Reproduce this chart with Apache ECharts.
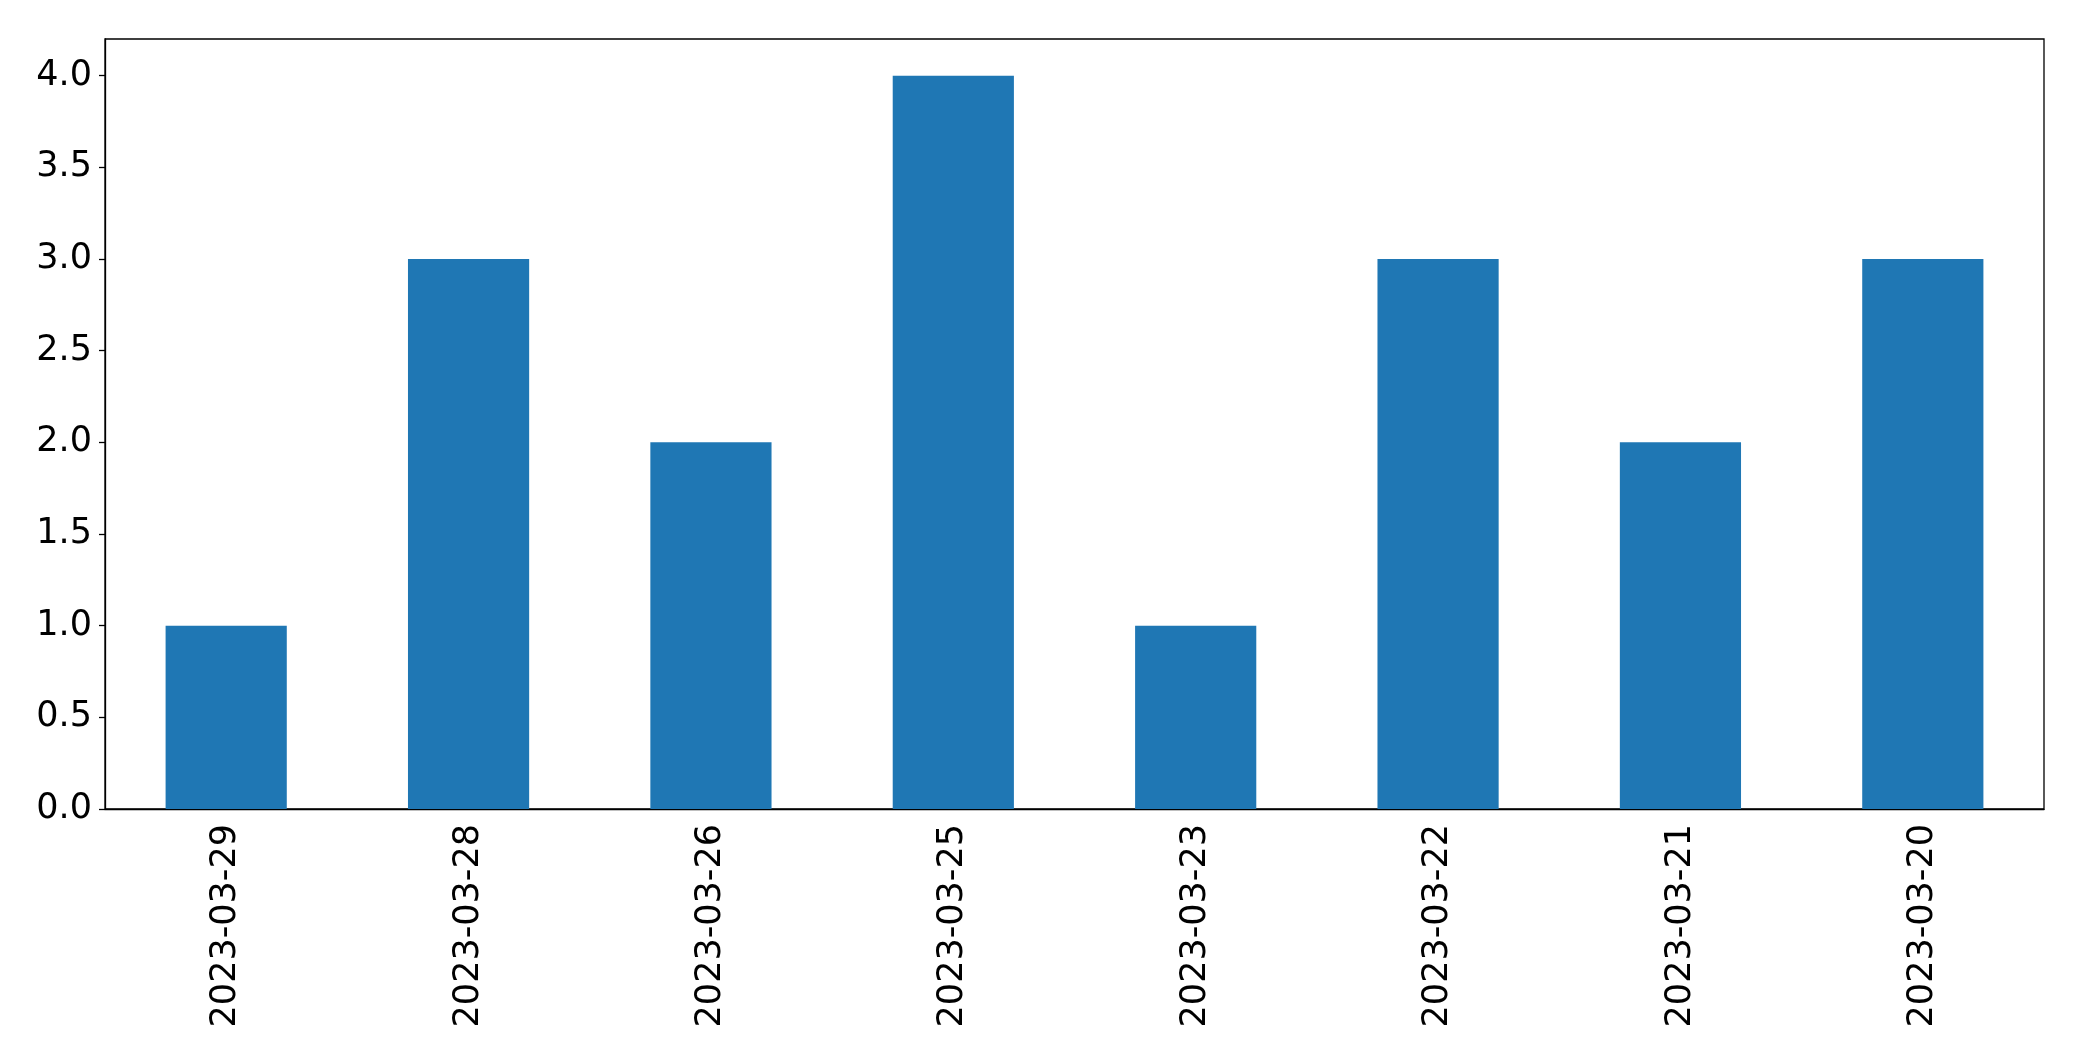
<!DOCTYPE html>
<html>
<head>
<meta charset="utf-8">
<script src="https://cdn.jsdelivr.net/npm/echarts@6/dist/echarts.min.js"></script>
<style>
  html, body { margin: 0; padding: 0; background: #fff; }
  #main { width: 2082px; height: 1061px; }
</style>
</head>
<body>
<div id="main"></div>
<script>
var dates = ['2023-03-29', '2023-03-28', '2023-03-26', '2023-03-25',
             '2023-03-23', '2023-03-22', '2023-03-21', '2023-03-20'];
var counts = [1, 3, 2, 4, 1, 3, 2, 3];
var yTicks = [0, 0.5, 1, 1.5, 2, 2.5, 3, 3.5, 4];

var myChart = echarts.init(document.getElementById('main'));

var font = 'DejaVu Sans';

option = {
    animation: false,
    backgroundColor: '#fff',
    grid: {
        left: 105,
        top: 39,
        right: 38,
        bottom: 252,
        show: true,
        borderColor: '#000',
        borderWidth: 1.3,
        containLabel: false
    },
    xAxis: {
        type: 'category',
        data: dates,
        boundaryGap: true,
        axisLine: { lineStyle: { color: '#000', width: 1.3 } },
        axisTick: { alignWithLabel: true, length: 6, lineStyle: { color: '#000', width: 1.3 } },
        axisLabel: {
            rotate: 90,
            margin: 15,
            color: '#000',
            fontSize: 35,
            fontFamily: font,
            interval: 0
        },
        splitLine: { show: false }
    },
    yAxis: {
        type: 'value',
        min: 0,
        max: 4.2,
        interval: 0.5,
        axisLine: { show: true, lineStyle: { color: '#000', width: 1.3 } },
        axisTick: { show: true, length: 6, customValues: yTicks, lineStyle: { color: '#000', width: 1.3 } },
        axisLabel: {
            customValues: yTicks,
            margin: 13,
            padding: [10, 0, 0, 0],
            color: '#000',
            fontSize: 35,
            fontFamily: font,
            formatter: function (v) { return v.toFixed(1); }
        },
        splitLine: { show: false }
    },
    series: [
        {
            type: 'bar',
            data: counts,
            barWidth: '50%',
            itemStyle: { color: '#1f77b4' }
        }
    ]
};

myChart.setOption(option);
</script>
</body>
</html>
